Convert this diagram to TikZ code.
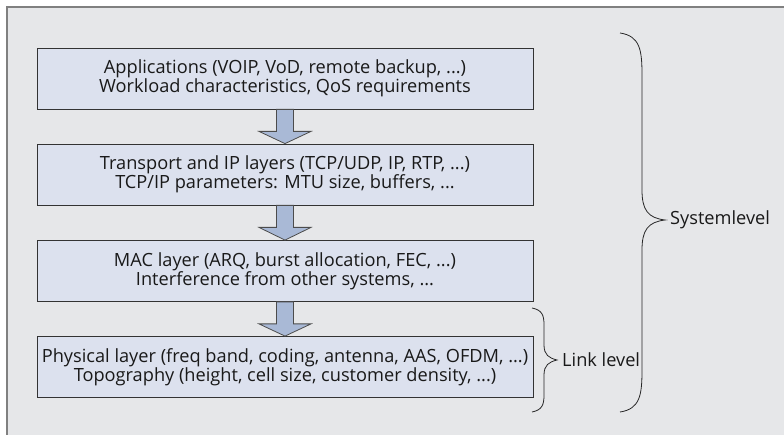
\documentclass[tikz,border=0pt]{standalone}
\usepackage{fontspec}
\setmainfont{Open Sans}
\usetikzlibrary{calc}
\definecolor{bg}{RGB}{230,231,233}
\definecolor{boxfill}{RGB}{220,225,238}
\definecolor{arrfill}{RGB}{169,185,214}
\definecolor{framec}{RGB}{128,128,128}
\begin{document}
\begin{tikzpicture}[x=1pt,y=-1pt,
  layer/.style={draw=black!80, fill=boxfill, line width=0.8pt, minimum width=496pt, minimum height=61pt, align=center, inner sep=0pt, text=black!90, font=\fontsize{18.2}{19}\selectfont},
  flowarrow/.style={draw=black!70, fill=arrfill, line width=0.8pt, line join=miter},
  bracepath/.style={draw=black!85, line width=0.8pt},
  lbl/.style={anchor=west, inner sep=0pt, text=black!90, font=\fontsize{18.2}{19}\selectfont}]
\useasboundingbox (0,0) rectangle (784,435);
\fill[bg] (7,7) rectangle (784,435);
\draw[framec, line width=1.5pt] (7,435) -- (7,7) -- (784,7);

\node[layer] (app) at (285,78.5) {Applications (VOIP, VoD, remote backup, ...)\\Workload characteristics, QoS requirements};
\node[layer] (tcp) at (285,174.5) {Transport and IP layers (TCP/UDP, IP, RTP, ...)\\TCP/IP parameters: MTU size, buffers, ...};
\node[layer] (mac) at (285,271) {MAC layer (ARQ, burst allocation, FEC, ...)\\Interference from other systems, ...};
\node[layer] (phy) at (285,367) {Physical layer (freq band, coding, antenna, AAS, OFDM, ...)\\Topography (height, cell size, customer density, ...)};

\foreach \a/\b in {app/tcp, tcp/mac, mac/phy}{
  \draw[flowarrow] ($(\a.south)+(-8.5,0)$) -- ($(\a.south)+(-8.5,22)$) -- ($(\a.south)+(-26,22)$) -- (\b.north) -- ($(\a.south)+(26,22)$) -- ($(\a.south)+(8.5,22)$) -- ($(\a.south)+(8.5,0)$) -- cycle;
}

\coordinate (sysT) at (620,33);
\coordinate (sysB) at (620,412);
\coordinate (sysTip) at (665,220);
\draw[bracepath] (sysT) .. controls (640,36) and (642,50) .. (642,75) -- (642,190) .. controls (642,210) and (648,218) .. (sysTip) .. controls (648,222) and (642,230) .. (642,250) -- (642,370) .. controls (642,395) and (640,409) .. (sysB);
\node[lbl] (sys) at (670,220) {Systemlevel};

\coordinate (lnkT) at (532,308);
\coordinate (lnkB) at (532,412);
\coordinate (lnkTip) at (557,360);
\draw[bracepath] (lnkT) .. controls (542,310) and (544,315) .. (544,325) -- (544,345) .. controls (544,355) and (549,358) .. (lnkTip) .. controls (549,362) and (544,365) .. (544,375) -- (544,395) .. controls (544,405) and (542,410) .. (lnkB);
\node[lbl] (lnk) at (562,360) {Link level};
\end{tikzpicture}
\end{document}
